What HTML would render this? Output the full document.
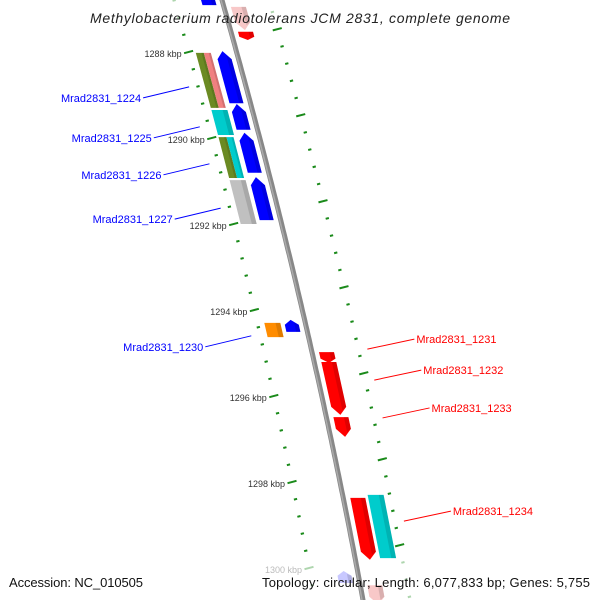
<!DOCTYPE html>
<html><head><meta charset="utf-8"><style>
html,body{margin:0;padding:0;background:#fff;}
svg{display:block;font-family:"Liberation Sans",sans-serif;}
</style></head><body>
<svg id="map" width="600" height="600" viewBox="0 0 600 600" xmlns="http://www.w3.org/2000/svg">
<g id="ticks"></g>
<g id="backbone"></g>
<g id="genes"></g>
<g id="labels"></g>
<text x="300" y="23" text-anchor="middle" font-size="14" font-style="italic" fill="#222" textLength="420">Methylobacterium radiotolerans JCM 2831, complete genome</text>
<text x="9" y="587" font-size="13" fill="#111" textLength="134">Accession: NC_010505</text>
<text x="590" y="587" text-anchor="end" font-size="13" fill="#111" textLength="328">Topology: circular; Length: 6,077,833 bp; Genes: 5,755</text>
</svg>
<script>
const tickKbp = [1288, 1290, 1292, 1294, 1296, 1298, 1300];
const tickLabels = ["1288 kbp","1290 kbp","1292 kbp","1294 kbp","1296 kbp","1298 kbp","1300 kbp"];
const geneStart = [1286.56,1286.95,1287.53,1287.98,1288.02,1288.02,1289.35,1289.21,1289.98,1289.98,1289.88,1290.98,1290.91,1294.30,1294.23,1294.98,1295.21,1296.49,1298.37,1298.30,1300.07,1300.40];
const geneEnd   = [1286.91,1287.49,1287.72,1289.19,1289.30,1289.30,1289.93,1289.81,1290.93,1290.93,1290.81,1292.00,1291.91,1294.63,1294.51,1295.23,1296.44,1296.95,1299.81,1299.77,1300.35,1300.85];
const geneLane  = ["blueL","redR","redR","blueL","colA","colB","col","blueL","colA","colB","blueL","col","blueL","col","blueL","redR","redR","redR","redR","cyanR","blueL","redR"];
const geneColor = ["#0000ff","#f8c8c8","#ff0000","#0000ff","#6b8a23","#f08080","#00cccc","#0000ff","#6b8a23","#00cccc","#0000ff","#c0c0c0","#0000ff","#ff8c00","#0000ff","#ff0000","#ff0000","#ff0000","#ff0000","#00cccc","#c8c8ff","#f8c8c8"];
const geneArrow = ["up","down","down","up","none","none","none","up","none","none","up","none","up","none","up","down","down","down","down","none","up","down"];
const labelNames = ["Mrad2831_1224","Mrad2831_1225","Mrad2831_1226","Mrad2831_1227","Mrad2831_1230","Mrad2831_1231","Mrad2831_1232","Mrad2831_1233","Mrad2831_1234"];
const labelKbp = [1288.81,1289.74,1290.60,1291.63,1294.60,1294.91,1295.63,1296.51,1298.91];
const labelSide = ["L","L","L","L","L","R","R","R","R"];

const NS="http://www.w3.org/2000/svg";
function Y(k){return 52+(k-1288)*43;}
function bx(y){return 222+0.285*y-8.33e-5*y*y;}
const lanes={blueL:[-21,-7],colA:[-41,-33],colB:[-33,-26],col:[-41,-25],redR:[7,22],cyanR:[25,41]};
function mk(tag,attrs,parent){const e=document.createElementNS(NS,tag);for(const k in attrs)e.setAttribute(k,attrs[k]);parent.appendChild(e);return e;}
function P(o,y){return (bx(y)+o).toFixed(1)+","+y.toFixed(1);}

const bb=document.getElementById('backbone');
let d="";for(let y=-5;y<=605;y+=5){d+=(y===-5?"M":"L")+(bx(y)).toFixed(1)+" "+y;}
const bp1=mk('path',{d:d,stroke:"#888",'stroke-width':5,fill:"none"},bb);

const bp2=mk('path',{d:d,stroke:"#aaa",'stroke-width':1.5,fill:"none",transform:"translate(-1,0)"},bb);


const tg=document.getElementById('ticks');
function tick(y,off,long,name){
  const x=bx(y)+off;const len=long?4.5:1.6;
  const e=mk('line',{x1:x-len,y1:y+len*0.26,x2:x+len,y2:y-len*0.26,stroke:"#1a8a1a",'stroke-width':2,opacity:(y<25||y>560)?0.35:1},tg);
  
}
const step=43*0.4;
for(let y=Y(tickKbp[0])-3*step;y<600;y+=step){
  const k=(y-Y(1288))/step;const isLong=Math.abs(k/5-Math.round(k/5))<0.01;
  tick(y,-48,isLong,isLong?'left-major-tick':'left-minor-tick');
}
for(let y=Y(1289.47)-6*step;y<600;y+=step){
  const k=(y-Y(1289.47))/step;const isLong=Math.abs(k/5-Math.round(k/5))<0.01;
  tick(y,47,isLong,isLong?'right-major-tick':'right-minor-tick');
}
tickKbp.forEach((k,i)=>{
  const y=Y(k);
  const t=mk('text',{x:bx(y)-55,y:y+5,'text-anchor':"end",'font-size':9,fill:y>560?"#bbb":"#333"},tg);
  t.textContent=tickLabels[i];
  
});

const gg=document.getElementById('genes');
geneStart.forEach((s,i)=>{
  const y1=Y(s),y2=Y(geneEnd[i]);const [a,b]=lanes[geneLane[i]];const m=(a+b)/2;const tl=Math.min(8,(y2-y1)*0.4);
  let pts;
  if(geneArrow[i]==="up") pts=[P(m,y1),P(b,y1+tl),P(b,y2),P(a,y2),P(a,y1+tl)];
  else if(geneArrow[i]==="down") pts=[P(a,y1),P(b,y1),P(b,y2-tl),P(m,y2),P(a,y2-tl)];
  else pts=[P(a,y1),P(b,y1),P(b,y2),P(a,y2)];
  const e=mk('polygon',{points:pts.join(" "),fill:geneColor[i]},gg);
  
  const w=(b-a)*0.3;
  const sh=mk('polygon',{points:[P(b-w,y1+(geneArrow[i]==="up"?tl*0.6:0)),P(b,y1+(geneArrow[i]==="up"?tl:0)),P(b,y2-(geneArrow[i]==="down"?tl:0)),P(b-w,y2-(geneArrow[i]==="down"?tl*0.6:0))].join(" "),fill:"#000",opacity:0.12},gg);
  
});

const lg=document.getElementById('labels');
labelNames.forEach((n,i)=>{
  const y=Y(labelKbp[i]);const L=labelSide[i]==="L";const col=L?"#0000ff":"#ff0000";
  const x0=L?bx(y)-57:bx(y)+56;const x1=L?x0-46:x0+47;const y1=L?y+11:y-10;
  const ln=mk('line',{x1:x0,y1:y,x2:x1,y2:y1,stroke:col,'stroke-width':1},lg);
  
  const t=mk('text',{x:L?x1-2:x1+2,y:y1+4,'text-anchor':L?"end":"start",'font-size':11,fill:col},lg);
  t.textContent=n;
  
});
</script>
</body></html>
